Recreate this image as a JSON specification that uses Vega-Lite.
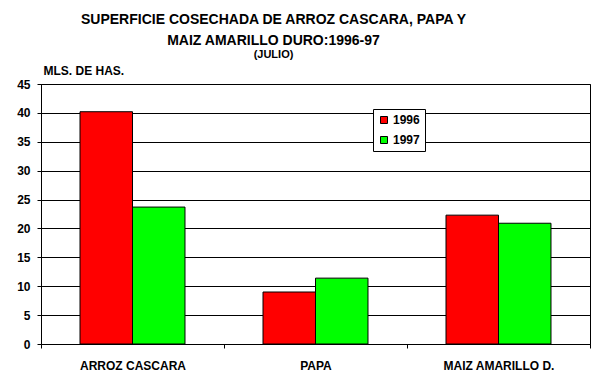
{
  "$schema": "https://vega.github.io/schema/vega-lite/v6.json",
  "autosize": "none",
  "width": 549,
  "height": 260,
  "padding": {"left": 41, "top": 84, "right": 5, "bottom": 35},
  "background": "white",
  "title": {
    "text": ["SUPERFICIE COSECHADA DE ARROZ CASCARA, PAPA Y", "MAIZ AMARILLO DURO:1996-97"],
    "subtitle": "(JULIO)",
    "anchor": "middle",
    "frame": "group",
    "dx": -42,
    "offset": 4,
    "font": "Liberation Sans",
    "fontSize": 14,
    "fontWeight": "bold",
    "lineHeight": 21,
    "color": "black",
    "subtitleFont": "Liberation Sans",
    "subtitleFontSize": 11,
    "subtitleFontWeight": "bold",
    "subtitleColor": "black",
    "subtitlePadding": 1
  },
  "data": {
    "values": [
      {"producto": "ARROZ CASCARA", "anio": "1996", "valor": 40.2},
      {"producto": "ARROZ CASCARA", "anio": "1997", "valor": 23.7},
      {"producto": "PAPA", "anio": "1996", "valor": 9.0},
      {"producto": "PAPA", "anio": "1997", "valor": 11.4},
      {"producto": "MAIZ AMARILLO D.", "anio": "1996", "valor": 22.3},
      {"producto": "MAIZ AMARILLO D.", "anio": "1997", "valor": 20.9}
    ]
  },
  "mark": {"type": "bar", "stroke": "black", "strokeWidth": 1},
  "encoding": {
    "x": {
      "field": "producto",
      "type": "nominal",
      "sort": ["ARROZ CASCARA", "PAPA", "MAIZ AMARILLO D."],
      "scale": {"paddingInner": 0, "paddingOuter": 0},
      "axis": {
        "title": null,
        "labelAngle": 0,
        "tickBand": "extent",
        "tickSize": 4,
        "labelPadding": 12,
        "grid": false
      }
    },
    "xOffset": {
      "field": "anio",
      "type": "nominal",
      "scale": {"paddingInner": 0, "paddingOuter": 0.743}
    },
    "y": {
      "field": "valor",
      "type": "quantitative",
      "scale": {"domain": [0, 45], "nice": false},
      "axis": {
        "values": [0, 5, 10, 15, 20, 25, 30, 35, 40, 45],
        "title": "MLS. DE HAS.",
        "titleAngle": 0,
        "titleAlign": "left",
        "titleBaseline": "bottom",
        "titleX": 2,
        "titleY": -7,
        "tickSize": 4,
        "labelPadding": 7,
        "grid": true
      }
    },
    "color": {
      "field": "anio",
      "type": "nominal",
      "scale": {"domain": ["1996", "1997"], "range": ["#FF0000", "#00FF00"]},
      "legend": {
        "title": null,
        "orient": "none",
        "legendX": 332,
        "legendY": 25,
        "symbolType": "square",
        "symbolSize": 49,
        "symbolStrokeColor": "black",
        "symbolStrokeWidth": 1,
        "symbolOpacity": 1,
        "labelOffset": 3,
        "rowPadding": 8,
        "padding": 5,
        "strokeColor": "black",
        "fillColor": "white",
        "labelFont": "Liberation Sans",
        "labelFontSize": 12,
        "labelFontWeight": "bold",
        "labelColor": "black"
      }
    }
  },
  "config": {
    "view": {"stroke": "black", "strokeWidth": 1},
    "axis": {
      "domainColor": "black",
      "domainWidth": 1,
      "tickColor": "black",
      "tickWidth": 1,
      "gridColor": "black",
      "gridWidth": 1,
      "gridOpacity": 1,
      "labelFont": "Liberation Sans",
      "labelFontSize": 12,
      "labelFontWeight": "bold",
      "labelColor": "black",
      "titleFont": "Liberation Sans",
      "titleFontSize": 12,
      "titleFontWeight": "bold",
      "titleColor": "black"
    }
  }
}
